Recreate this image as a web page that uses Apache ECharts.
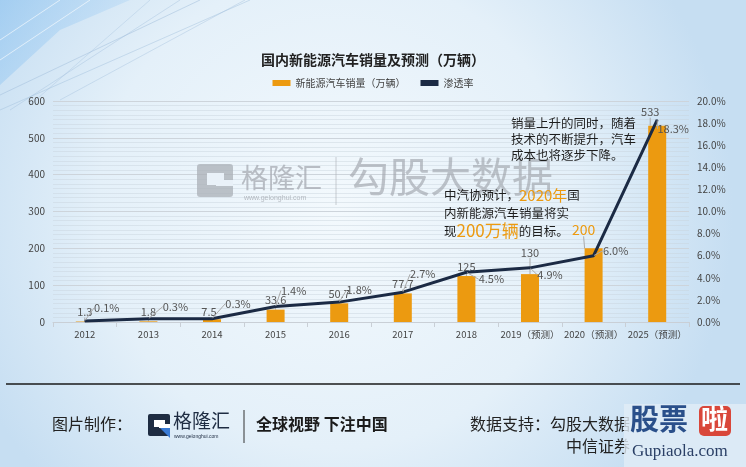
<!DOCTYPE html>
<html>
<head>
<meta charset="utf-8">
<script src="https://cdn.jsdelivr.net/npm/echarts@6/dist/echarts.min.js"></script>
<style>
  html, body { margin: 0; padding: 0; }
  #chart { width: 746px; height: 467px; }
</style>
</head>
<body>
<div id="chart"></div>
<script>
var years = ['2012', '2013', '2014', '2015', '2016', '2017', '2018', '2019（预测）', '2020（预测）', '2025（预测）'];
var sales = [1.3, 1.8, 7.5, 33.6, 50.7, 77.7, 125, 130, 200, 533];
var rate = [0.1, 0.3, 0.3, 1.4, 1.8, 2.7, 4.5, 4.9, 6.0, 18.3];
var leftTicks = [0, 100, 600];   // min, interval, max
var rightTicks = [0, 2, 20];

// 标签偏移（像素），和数据分开放
var salesLabelMove = [[0, 0], [0, 0], [-3, 2], [0, 0], [0, 0], [0, 0], [0, 0], [0, -12], [-10, -8], [-7, -4]];
var rateLabelMove = [[22, -13], [27, -12], [26, -15], [18, -16], [20, -12], [20, -18], [25, 7], [20, 7], [22, -5], [16, 9]];

var chart = echarts.init(document.getElementById('chart'));

var orange = '#EC9A10';
var navy = '#1B2A44';
var font = '"Noto Sans CJK SC", "Noto Sans", sans-serif';

var option = {
    backgroundColor: {
        type: 'radial', x: 0.45, y: 0.45, r: 0.85,
        colorStops: [
            { offset: 0, color: '#f3f9fd' },
            { offset: 0.6, color: '#e4f0f9' },
            { offset: 1, color: '#c6def2' }
        ]
    },
    textStyle: { fontFamily: font },
    title: {
        text: '国内新能源汽车销量及预测（万辆）',
        left: 'center',
        top: 48,
        textStyle: { fontSize: 14, fontWeight: 'bold', color: '#222', fontFamily: font }
    },
    legend: {
        top: 73,
        left: 'center',
        itemWidth: 18,
        itemHeight: 6,
        itemGap: 15,
        textStyle: { fontSize: 10, color: '#444', fontFamily: font },
        data: [
            { name: '新能源汽车销量（万辆）', icon: 'rect' },
            { name: '渗透率', icon: 'rect', itemStyle: { color: navy } }
        ]
    },
    grid: { left: 53, right: 57, top: 101, bottom: 145 },
    xAxis: {
        type: 'category',
        data: years,
        axisLine: { lineStyle: { color: '#c9cfd6' } },
        axisTick: { show: true, lineStyle: { color: '#c9cfd6' } },
        axisLabel: { fontSize: 9.5, color: '#444', margin: 8, interval: 0, hideOverlap: false }
    },
    yAxis: [
        {
            type: 'value',
            min: leftTicks[0], interval: leftTicks[1], max: leftTicks[2],
            axisLine: { show: false },
            axisTick: { show: false },
            axisLabel: { fontSize: 10, color: '#444', margin: 8 },
            splitLine: { lineStyle: { color: '#cdd4db', width: 1 } },
            minorTick: { show: false, splitNumber: 8 },
            minorSplitLine: { show: true, lineStyle: { color: 'rgba(200,210,220,0.45)', width: 1 } }
        },
        {
            type: 'value',
            min: rightTicks[0], interval: rightTicks[1], max: rightTicks[2],
            axisLine: { show: false },
            axisTick: { show: false },
            splitLine: { show: false },
            axisLabel: { fontSize: 10, color: '#444', margin: 8, formatter: function (v) { return v.toFixed(1) + '%'; } }
        }
    ],
    series: [
        {
            name: '新能源汽车销量（万辆）',
            type: 'bar',
            data: sales.map(function (v, i) {
                var d = { value: v };
                if (i === 8) d.label = { color: orange, fontSize: 14 };
                return d;
            }),
            barWidth: 18,
            itemStyle: { color: orange },
            label: { show: true, position: 'top', distance: 4, fontSize: 11, color: '#555' },
            labelLayout: function (p) {
                var m = salesLabelMove[p.dataIndex];
                return { dx: m[0], dy: m[1] };
            },
            labelLine: { show: true, lineStyle: { color: '#aaa', width: 1 } },
            z: 2
        },
        {
            name: '渗透率',
            type: 'line',
            yAxisIndex: 1,
            data: rate,
            symbol: 'circle',
            symbolSize: 1,
            itemStyle: { color: navy },
            lineStyle: { color: navy, width: 3 },
            label: {
                show: true, position: 'inside', fontSize: 11, color: '#555',
                formatter: function (p) { return p.value.toFixed(1) + '%'; }
            },
            labelLayout: function (p) {
                var m = rateLabelMove[p.dataIndex];
                return { dx: m[0], dy: m[1] };
            },
            labelLine: { show: true, lineStyle: { color: '#aaa', width: 1 } },
            z: 3
        }
    ],
    graphic: [
        // 左上角装饰
        {
            type: 'polygon', z: -10, shape: { points: [[0, 0], [130, 0], [60, 30], [0, 85]] },
            style: { fill: { type: 'linear', x: 0, y: 0, x2: 1, y2: 1, colorStops: [{ offset: 0, color: 'rgba(140,195,240,0.6)' }, { offset: 1, color: 'rgba(170,210,245,0.2)' }] } }
        },
        { type: 'line', z: -9, shape: { x1: 0, y1: 95, x2: 200, y2: 0 }, style: { stroke: 'rgba(160,190,220,0.5)', lineWidth: 1 } },
        { type: 'line', z: -9, shape: { x1: 0, y1: 110, x2: 250, y2: 0 }, style: { stroke: 'rgba(160,190,220,0.45)', lineWidth: 1 } },
        { type: 'line', z: -9, shape: { x1: 10, y1: 110, x2: 180, y2: 0 }, style: { stroke: 'rgba(160,190,220,0.4)', lineWidth: 1 } },
        { type: 'line', z: -9, shape: { x1: 60, y1: 100, x2: 245, y2: 0 }, style: { stroke: 'rgba(160,190,220,0.4)', lineWidth: 1 } },
        { type: 'line', z: -9, shape: { x1: 30, y1: 105, x2: 150, y2: 0 }, style: { stroke: 'rgba(160,190,220,0.35)', lineWidth: 1 } },
        { type: 'line', z: -9, shape: { x1: 0, y1: 60, x2: 90, y2: 0 }, style: { stroke: 'rgba(255,255,255,0.6)', lineWidth: 1 } },
        { type: 'line', z: -9, shape: { x1: 0, y1: 40, x2: 60, y2: 0 }, style: { stroke: 'rgba(255,255,255,0.6)', lineWidth: 1 } },

        // 水印
        { type: 'rect', z: 1, shape: { x: 197, y: 164, width: 36, height: 33, r: 3 }, style: { fill: 'rgba(170,175,182,0.75)' } },
        { type: 'rect', z: 1, shape: { x: 207, y: 173, width: 17, height: 12 }, style: { fill: '#e9f1f8' } },
        { type: 'rect', z: 1, shape: { x: 216, y: 180, width: 17, height: 6 }, style: { fill: '#e9f1f8' } },
        { type: 'text', z: 1, left: 241, top: 164, style: { text: '格隆汇', font: '27px ' + font, fill: 'rgba(165,170,178,0.75)' } },
        { type: 'text', z: 1, left: 244, top: 195, style: { text: 'www.gelonghui.com', font: '7px sans-serif', fill: 'rgba(165,170,178,0.8)' } },
        { type: 'line', z: 1, shape: { x1: 336, y1: 157, x2: 336, y2: 205 }, style: { stroke: 'rgba(170,175,182,0.6)', lineWidth: 1 } },
        { type: 'text', z: 1, left: 348, top: 156, style: { text: '勾股大数据', font: '41px ' + font, fill: 'rgba(160,165,172,0.65)' } },

        // 注释
        {
            type: 'text', z: 10, left: 511, top: 115,
            style: { text: '销量上升的同时，随着\n技术的不断提升，汽车\n成本也将逐步下降。', font: '12.5px ' + font, fill: '#1d1d1d', lineHeight: 16 }
        },
        {
            type: 'text', z: 10, left: 444, top: 186,
            style: {
                text: '中汽协预计，{o|2020年}国\n内新能源汽车销量将实\n现{b|200万辆}的目标。',
                font: '12.5px ' + font, fill: '#1d1d1d', lineHeight: 18,
                rich: {
                    o: { fontSize: 15, fill: orange, fontFamily: font },
                    b: { fontSize: 17, fill: orange, fontFamily: font }
                }
            }
        },

        // 底部
        { type: 'line', z: 5, shape: { x1: 6, y1: 384, x2: 740, y2: 384 }, style: { stroke: '#1a1a1a', lineWidth: 1.5 } },
        { type: 'text', z: 5, left: 52, top: 416, style: { text: '图片制作：', font: '16px ' + font, fill: '#222' } },
        { type: 'rect', z: 5, shape: { x: 148, y: 414, width: 22, height: 22, r: 2 }, style: { fill: '#1e2c42' } },
        { type: 'rect', z: 5, shape: { x: 154, y: 420, width: 11, height: 7 }, style: { fill: '#ffffff' } },
        { type: 'rect', z: 5, shape: { x: 159, y: 424, width: 11, height: 4 }, style: { fill: '#ffffff' } },
        { type: 'polygon', z: 6, shape: { points: [[160, 428], [170, 428], [170, 438]] }, style: { fill: '#3a7bd5' } },
        { type: 'text', z: 5, left: 173, top: 411, style: { text: '格隆汇', font: '19px ' + font, fill: '#1e2c42' } },
        { type: 'text', z: 5, left: 174, top: 434, style: { text: 'www.gelonghui.com', font: '5px sans-serif', fill: '#1e2c42' } },
        { type: 'line', z: 5, shape: { x1: 244, y1: 410, x2: 244, y2: 443 }, style: { stroke: '#333', lineWidth: 1 } },
        { type: 'text', z: 5, left: 256, top: 416, style: { text: '全球视野 下注中国', font: 'bold 16px ' + font, fill: '#1a1a1a' } },
        { type: 'text', z: 5, left: 470, top: 416, style: { text: '数据支持：勾股大数据', font: '16px ' + font, fill: '#222' } },
        { type: 'text', z: 5, left: 566, top: 438, style: { text: '中信证券', font: '16px ' + font, fill: '#222' } },
        { type: 'rect', z: 7, shape: { x: 624, y: 404, width: 122, height: 63 }, style: { fill: 'rgba(225,236,246,0.8)' } },
        { type: 'text', z: 8, left: 630, top: 404, style: { text: '股票', font: 'bold 29px "Noto Sans CJK SC", serif', fill: '#2a4f8a' } },
        { type: 'rect', z: 8, shape: { x: 699, y: 406, width: 32, height: 30, r: 5 }, style: { fill: '#d9473a' } },
        { type: 'text', z: 9, left: 701, top: 405, style: { text: '啦', font: 'bold 27px "Noto Sans CJK SC", serif', fill: '#ffffff' } },
        { type: 'text', z: 8, left: 632, top: 443, style: { text: 'Gupiaola.com', font: '17px "Liberation Serif", serif', fill: '#2a3f66' } }
    ]
};

chart.setOption(option);
</script>
</body>
</html>
